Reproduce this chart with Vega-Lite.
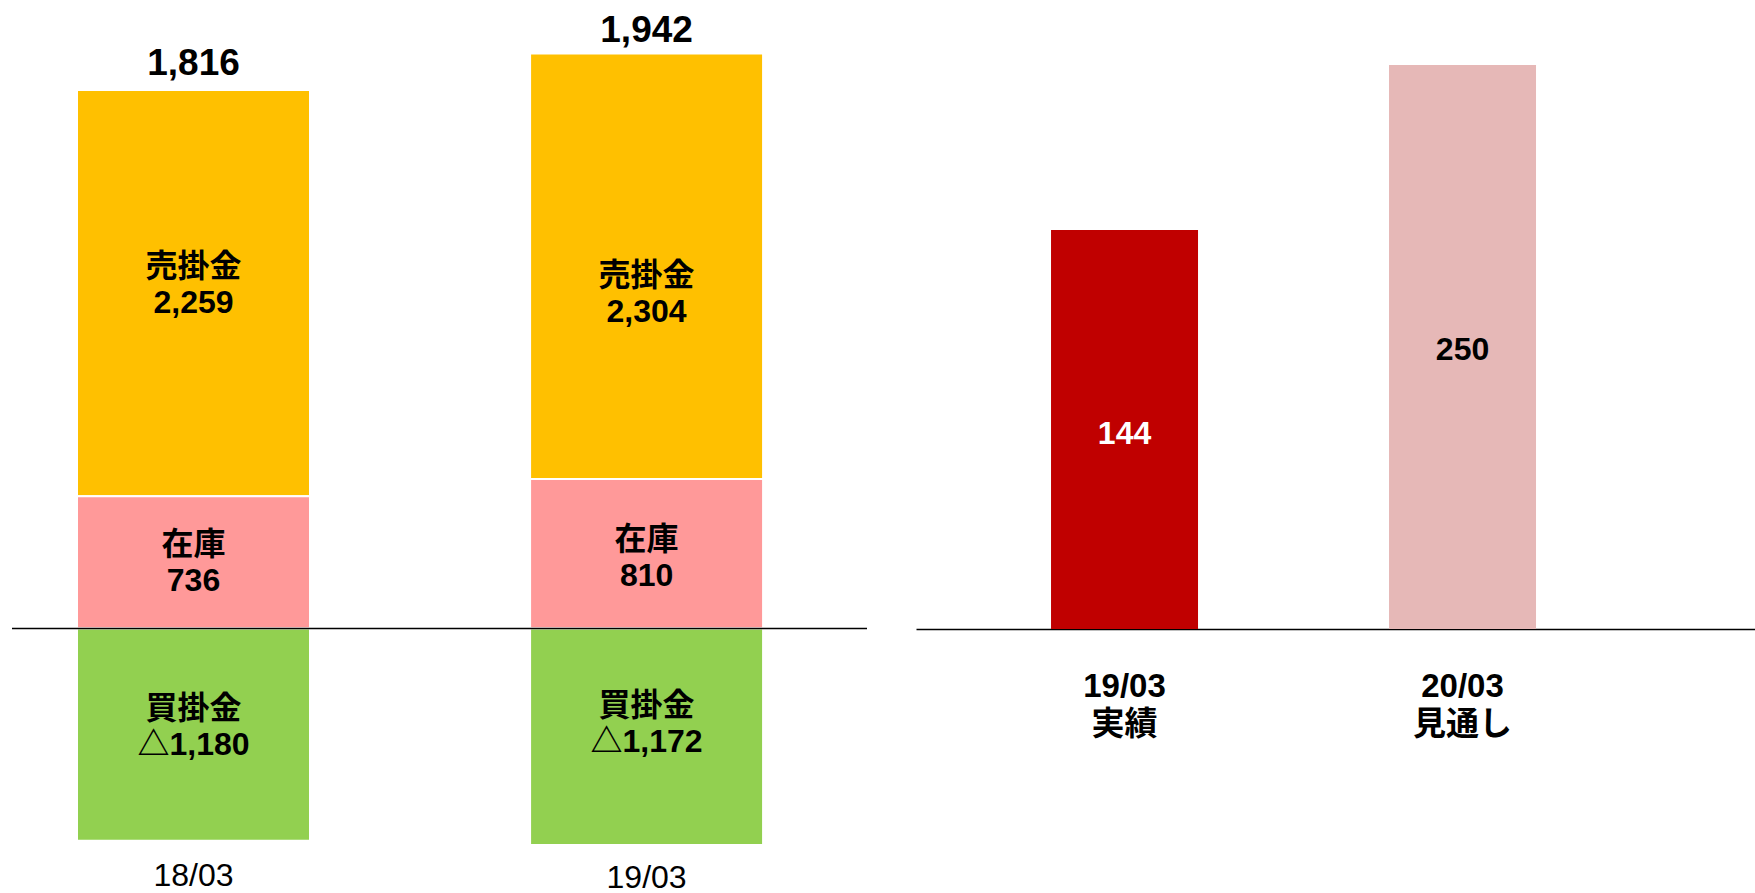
{
  "$schema": "https://vega.github.io/schema/vega-lite/v6.json",
  "padding": {"left": 11, "top": 0, "right": 0, "bottom": 0},
  "background": "white",
  "config": {
    "view": {"stroke": null},
    "font": "Liberation Sans, Noto Sans CJK JP",
    "text": {"font": "Liberation Sans, Noto Sans CJK JP"},
    "axis": {"labelFont": "Liberation Sans, Noto Sans CJK JP"}
  },
  "datasets": {
    "bs": [
      {"period": "18/03", "item": "売掛金", "value": 2259},
      {"period": "18/03", "item": "在庫", "value": 736},
      {"period": "18/03", "item": "買掛金", "value": -1180},
      {"period": "19/03", "item": "売掛金", "value": 2304},
      {"period": "19/03", "item": "在庫", "value": 810},
      {"period": "19/03", "item": "買掛金", "value": -1172}
    ],
    "totals": [
      {"period": "18/03", "net": 1816},
      {"period": "19/03", "net": 1942}
    ],
    "plan": [
      {"label": "19/03 実績", "value": 144},
      {"label": "20/03 見通し", "value": 250}
    ]
  },
  "spacing": 48,
  "resolve": {"scale": {"color": "independent"}},
  "hconcat": [
    {
      "spacing": 0,
      "bounds": "flush",
      "hconcat": [
        {
          "width": 363,
          "height": 850,
          "data": {"name": "bs"},
          "transform": [{"filter": "datum.period === '18/03'"}],
          "layer": [
            {
              "mark": {"type": "bar", "width": 233, "stroke": "white", "strokeWidth": 2},
              "encoding": {
                "x": {"field": "period", "type": "nominal", "scale": {"paddingInner": 0, "paddingOuter": 0},
                  "axis": {"title": null, "domain": false, "ticks": false, "tickSize": 0, "labelAngle": 0, "labelFontSize": 32, "labelColor": "black", "labelPadding": 10}},
                "y": {"field": "value", "type": "quantitative", "stack": "zero", "scale": {"domain": [-1232, 3496], "nice": false}, "axis": null},
                "order": {"field": "item", "sort": "ascending"},
                "color": {"field": "item", "type": "nominal", "scale": {"domain": ["売掛金", "在庫", "買掛金"], "range": ["#FFC000", "#FF9999", "#92D050"]}, "legend": null}
              }
            },
            {
              "transform": [{"aggregate": [{"op": "count", "as": "n"}]}],
              "mark": {"type": "rule", "color": "black", "strokeWidth": 1.5},
              "encoding": {"y": {"datum": 0}}
            },
            {
              "mark": {"type": "text", "fontSize": 32, "fontWeight": "bold", "lineHeight": 36, "baseline": "middle", "align": "center", "color": "black",
                "text": {"expr": "[datum.item, (datum.value < 0 ? '△' : '') + format(abs(datum.value), ',')]"},
                "dy": {"expr": "datum.item === '売掛金' ? -26 : datum.item === '在庫' ? -17 : -26"}},
              "encoding": {
                "x": {"field": "period", "type": "nominal"},
                "y": {"field": "value", "type": "quantitative", "stack": "zero", "bandPosition": 0.5},
                "order": {"field": "item", "sort": "ascending"},
                "detail": {"field": "item"}
              }
            },
            {
              "transform": [
                {"filter": "datum.value > 0"},
                {"lookup": "period", "from": {"data": {"name": "totals"}, "key": "period", "fields": ["net"]}}
              ],
              "mark": {"type": "text", "fontSize": 37, "fontWeight": "bold", "baseline": "alphabetic", "align": "center", "dy": -15, "color": "black"},
              "encoding": {
                "x": {"field": "period", "type": "nominal"},
                "y": {"aggregate": "sum", "field": "value", "type": "quantitative"},
                "text": {"aggregate": "max", "field": "net", "type": "quantitative", "format": ","}
              }
            }
          ]
        },
        {
          "width": 492,
          "height": 850,
          "data": {"name": "bs"},
          "transform": [{"filter": "datum.period === '19/03'"}],
          "layer": [
            {
              "mark": {"type": "bar", "width": 233, "stroke": "white", "strokeWidth": 2},
              "encoding": {
                "x": {"field": "period", "type": "nominal", "scale": {"paddingInner": 0, "paddingOuter": 0.5, "align": 0.604},
                  "axis": {"title": null, "domain": false, "ticks": false, "tickSize": 0, "labelAngle": 0, "labelFontSize": 32, "labelColor": "black", "labelPadding": 12}},
                "y": {"field": "value", "type": "quantitative", "stack": "zero", "scale": {"domain": [-1199, 3403], "nice": false}, "axis": null},
                "order": {"field": "item", "sort": "ascending"},
                "color": {"field": "item", "type": "nominal", "scale": {"domain": ["売掛金", "在庫", "買掛金"], "range": ["#FFC000", "#FF9999", "#92D050"]}, "legend": null}
              }
            },
            {
              "transform": [{"aggregate": [{"op": "count", "as": "n"}]}],
              "mark": {"type": "rule", "color": "black", "strokeWidth": 1.5},
              "encoding": {"y": {"datum": 0}}
            },
            {
              "mark": {"type": "text", "fontSize": 32, "fontWeight": "bold", "lineHeight": 36, "baseline": "middle", "align": "center", "color": "black",
                "text": {"expr": "[datum.item, (datum.value < 0 ? '△' : '') + format(abs(datum.value), ',')]"},
                "dy": {"expr": "datum.item === '売掛金' ? 10 : datum.item === '在庫' ? -14 : -31"}},
              "encoding": {
                "x": {"field": "period", "type": "nominal"},
                "y": {"field": "value", "type": "quantitative", "stack": "zero", "bandPosition": 0.5},
                "order": {"field": "item", "sort": "ascending"},
                "detail": {"field": "item"}
              }
            },
            {
              "transform": [
                {"filter": "datum.value > 0"},
                {"lookup": "period", "from": {"data": {"name": "totals"}, "key": "period", "fields": ["net"]}}
              ],
              "mark": {"type": "text", "fontSize": 37, "fontWeight": "bold", "baseline": "alphabetic", "align": "center", "dy": -11, "color": "black"},
              "encoding": {
                "x": {"field": "period", "type": "nominal"},
                "y": {"aggregate": "sum", "field": "value", "type": "quantitative"},
                "text": {"aggregate": "max", "field": "net", "type": "quantitative", "format": ","}
              }
            }
          ]
        }
      ]
    },
    {
      "width": 840,
      "height": 629,
      "data": {"name": "plan"},
      "encoding": {
        "x": {"field": "label", "type": "nominal", "scale": {"paddingInner": 0, "paddingOuter": 0.2426, "align": 0.241},
          "axis": {"title": null, "domain": true, "domainColor": "black", "domainWidth": 1.5, "ticks": false, "tickSize": 0, "labelAngle": 0,
            "labelFontSize": 33, "labelFontWeight": "bold", "labelColor": "black", "labelLineHeight": 38, "labelPadding": 41,
            "labelExpr": "split(datum.label, ' ')"}}
      },
      "layer": [
        {
          "mark": {"type": "bar", "width": 147},
          "encoding": {
            "y": {"field": "value", "type": "quantitative", "scale": {"domain": [-112.3, 291.8], "nice": false, "zero": false}, "axis": null},
            "y2": {"datum": -112.3},
            "color": {"field": "label", "type": "nominal", "scale": {"domain": ["19/03 実績", "20/03 見通し"], "range": ["#C00000", "#E6B8B7"]}, "legend": null}
          }
        },
        {
          "transform": [{"filter": "datum.label === '19/03 実績'"}],
          "mark": {"type": "text", "fontSize": 32, "fontWeight": "bold", "baseline": "middle", "align": "center", "color": "white", "dy": 204},
          "encoding": {
            "y": {"field": "value", "type": "quantitative"},
            "text": {"field": "value", "type": "quantitative", "format": ","}
          }
        },
        {
          "transform": [{"filter": "datum.label === '20/03 見通し'"}],
          "mark": {"type": "text", "fontSize": 32, "fontWeight": "bold", "baseline": "middle", "align": "center", "color": "black", "dy": 285},
          "encoding": {
            "y": {"field": "value", "type": "quantitative"},
            "text": {"field": "value", "type": "quantitative", "format": ","}
          }
        }
      ]
    }
  ]
}
